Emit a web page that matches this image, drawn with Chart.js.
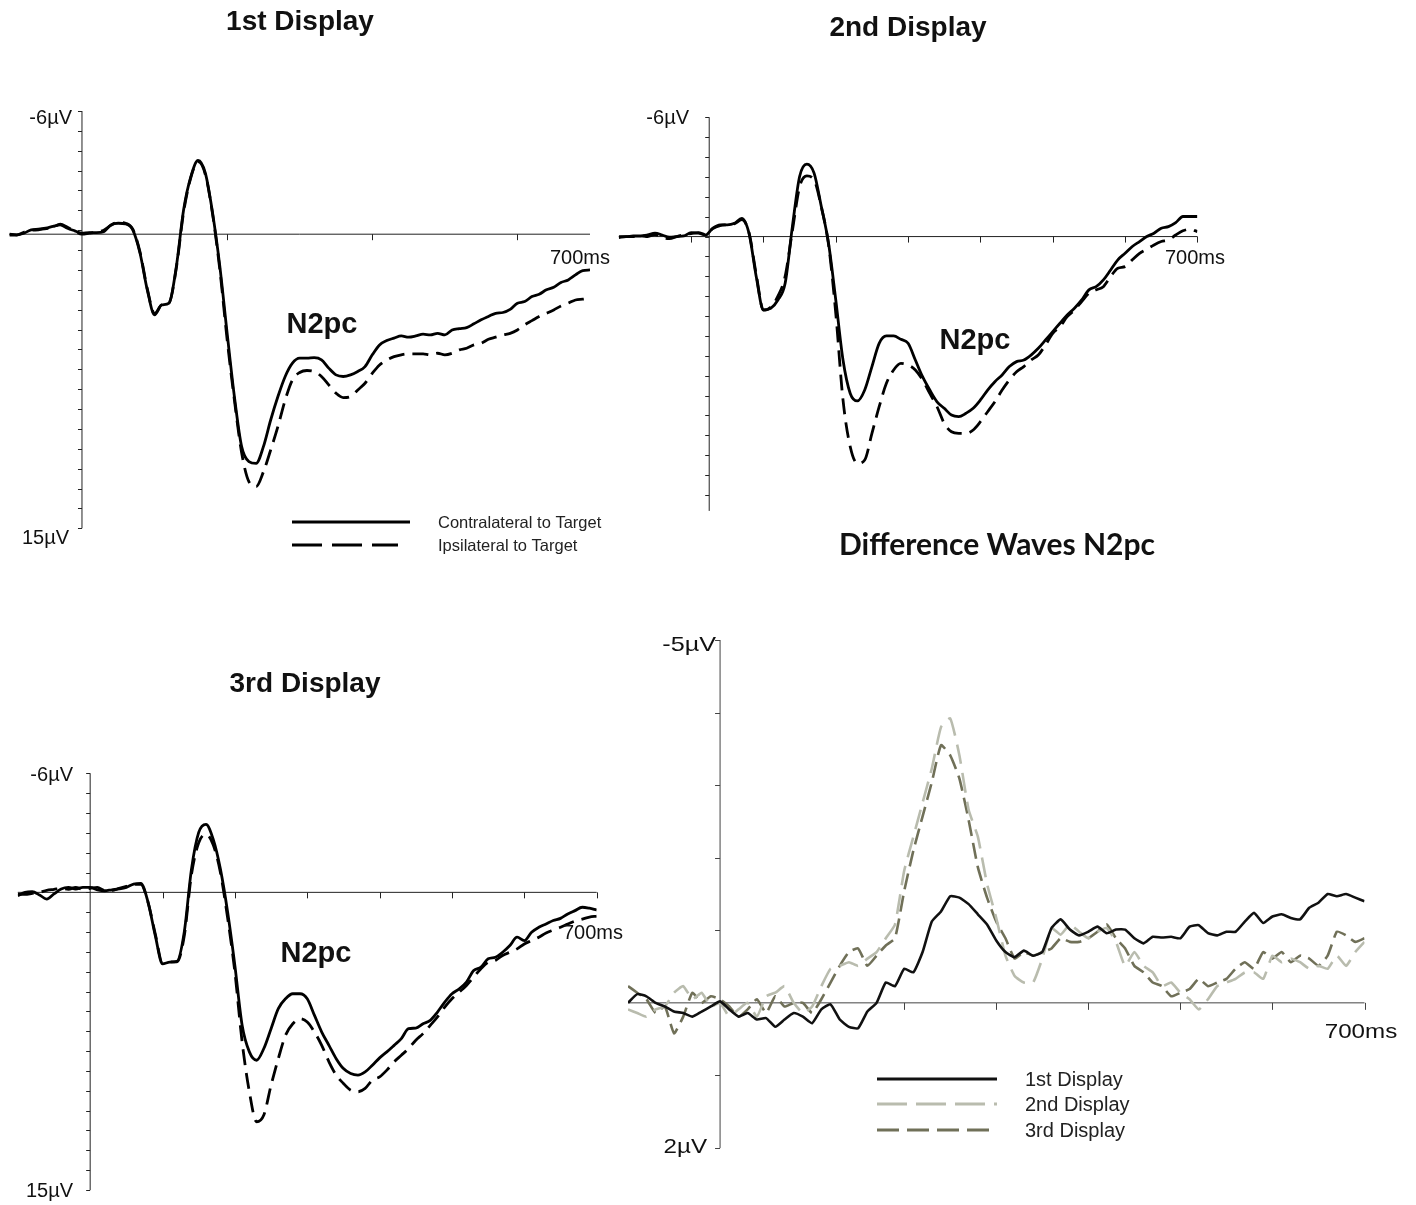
<!DOCTYPE html>
<html>
<head>
<meta charset="utf-8">
<script src="https://cdn.jsdelivr.net/npm/chart.js@4.4.1/dist/chart.umd.min.js"></script>
<style>
  html, body { margin: 0; padding: 0; background: #fff; }
  #wrap { position: relative; width: 1416px; height: 1205px; }
  #wrap canvas { position: absolute; left: 0; top: 0; }
</style>
</head>
<body>
<div id="wrap">
  <canvas id="p1" width="1416" height="1205"></canvas>
  <canvas id="p2" width="1416" height="1205"></canvas>
  <canvas id="p3" width="1416" height="1205"></canvas>
  <canvas id="p4" width="1416" height="1205"></canvas>
</div>
<script>
// time points in ms (10 ms steps, -100 .. 700)
const TIME_MS = [-100,-90,-80,-70,-60,-50,-40,-30,-20,-10,
  0,10,20,30,40,50,60,70,80,90,
  100,110,120,130,140,150,160,170,180,190,
  200,210,220,230,240,250,260,270,280,290,
  300,310,320,330,340,350,360,370,380,390,
  400,410,420,430,440,450,460,470,480,490,
  500,510,520,530,540,550,560,570,580,590,
  600,610,620,630,640,650,660,670,680,690,700];

// amplitudes in microvolts (negative up)
const P1_CONTRA = [0.0,0.03,-0.05,-0.22,-0.25,-0.3,-0.39,-0.47,-0.3,-0.17,
  -0.05,-0.08,-0.08,-0.13,-0.47,-0.55,-0.52,-0.22,0.96,2.8,
  4.06,3.56,3.47,1.63,-1.22,-2.9,-3.71,-3.07,-1.06,1.63,
  4.98,8.17,10.69,11.44,11.53,10.69,9.35,8.17,7.16,6.49,
  6.24,6.24,6.21,6.32,6.74,7.08,7.16,7.08,6.91,6.66,
  6.07,5.57,5.35,5.23,5.12,5.18,5.12,5.03,5.07,4.99,
  5.07,4.82,4.75,4.70,4.51,4.31,4.14,3.98,3.94,3.78,
  3.47,3.39,3.14,3.02,2.80,2.67,2.43,2.30,2.05,1.83,1.80];
const P1_IPSI = [0.05,0.05,-0.1,-0.2,-0.22,-0.28,-0.35,-0.5,-0.35,-0.15,
  0.0,-0.05,-0.1,-0.2,-0.45,-0.6,-0.55,-0.25,0.9,2.75,
  4.0,3.55,3.45,1.7,-1.1,-2.85,-3.65,-3.0,-1.0,1.8,
  5.3,8.34,11.0,12.45,12.7,11.96,10.86,9.68,8.34,7.33,
  6.96,6.86,6.91,7.16,7.58,8.0,8.22,8.17,7.84,7.5,
  7.0,6.58,6.33,6.16,6.07,6.02,6.02,6.02,6.07,5.99,
  6.07,5.99,5.82,5.74,5.57,5.49,5.29,5.18,5.07,4.99,
  4.82,4.56,4.35,4.14,3.98,3.81,3.61,3.47,3.31,3.27,3.22];

const P2_CONTRA = [0,0,-0.03,-0.03,-0.08,-0.17,-0.08,0.03,0,-0.03,
  -0.2,-0.17,-0.08,-0.42,-0.59,-0.59,-0.67,-0.92,-0.17,2.01,
  3.69,3.61,3.19,2.35,-0.5,-3.02,-3.64,-3.19,-1.51,0.34,
  3.19,6.21,7.89,8.27,7.72,6.54,5.37,5.0,5.0,5.17,
  5.37,6.21,7.05,7.72,8.31,8.64,8.98,9.06,8.89,8.64,
  8.22,7.72,7.3,6.96,6.54,6.29,6.21,5.96,5.62,5.2,
  4.78,4.36,3.94,3.61,3.19,2.68,2.52,2.18,1.68,1.17,
  0.84,0.5,0.25,0,-0.17,-0.42,-0.5,-0.7,-1.01,-1.01,-1.01];
const P2_IPSI = [0.05,0,0,-0.05,0,-0.1,0.05,0.1,0,-0.1,
  -0.15,-0.2,-0.1,-0.4,-0.55,-0.6,-0.65,-0.85,-0.2,1.9,
  3.7,3.55,3.0,2.0,-0.3,-2.5,-3.05,-2.85,-1.5,0.4,
  3.86,8.22,10.57,11.41,11.24,9.9,8.56,7.38,6.71,6.38,
  6.46,6.71,7.21,7.89,8.56,9.4,9.82,9.9,9.9,9.73,
  9.31,8.81,8.31,7.72,7.21,6.8,6.54,6.21,5.96,5.45,
  4.87,4.53,4.03,3.69,3.27,2.85,2.68,2.52,2.01,1.59,
  1.51,1.17,0.84,0.64,0.42,0.25,0.17,-0.08,-0.29,-0.37,-0.25];

const P3_CONTRA = [0.17,0,-0.03,0.13,0.34,0.08,-0.17,-0.25,-0.17,-0.25,
  -0.25,-0.13,-0.08,-0.13,-0.17,-0.25,-0.42,-0.45,0.5,2.18,
  3.6,3.52,3.48,2.01,-1.17,-3.02,-3.43,-2.68,-1.17,1.0,
  3.69,6.7,8.04,8.46,7.87,6.87,5.86,5.36,5.11,5.11,
  5.36,6.2,7.04,7.71,8.38,8.88,9.13,9.21,9.05,8.71,
  8.34,8.04,7.71,7.37,6.87,6.84,6.62,6.45,6.03,5.53,
  5.11,4.86,4.52,3.94,3.77,3.35,3.27,3.02,2.68,2.26,
  2.43,2.01,1.76,1.59,1.42,1.31,1.09,0.92,0.75,0.8,0.89];
const P3_IPSI = [0.1,0.1,0.05,0.0,-0.1,-0.15,-0.2,-0.15,-0.25,-0.15,
  -0.2,-0.25,-0.1,-0.1,-0.2,-0.3,-0.4,-0.4,0.5,2.1,
  3.55,3.5,3.5,2.2,-0.9,-2.5,-2.93,-2.4,-1.0,1.3,
  4.02,7.54,10.05,11.56,11.22,9.72,8.38,7.2,6.62,6.37,
  6.53,7.04,7.71,8.54,9.21,9.63,9.97,10.05,9.88,9.46,
  9.3,8.96,8.54,8.21,7.87,7.45,7.12,6.7,6.28,5.78,
  5.36,5.03,4.69,4.27,3.85,3.52,3.43,3.18,3.02,2.85,
  2.6,2.43,2.26,2.05,1.9,1.76,1.6,1.45,1.35,1.25,1.2];

const DIFF_1ST = [0,-0.12,-0.09,0,0.05,0.12,0.14,0.19,0.12,0.05,
  -0.02,0.09,0.19,0.14,0.23,0.21,0.33,0.23,0.14,0.19,
  0.28,0.09,0.02,0.23,0.33,0.35,0.12,0,-0.28,-0.23,
  -0.47,-0.42,-0.7,-1.12,-1.26,-1.47,-1.45,-1.36,-1.22,-1.08,
  -0.86,-0.7,-0.63,-0.72,-0.65,-0.7,-1.03,-1.15,-1.01,-0.93,
  -0.98,-1.05,-0.96,-1.01,-1.01,-0.89,-0.82,-0.91,-0.9,-0.91,
  -0.89,-1.05,-1.07,-0.96,-0.93,-0.98,-0.98,-1.12,-1.24,-1.1,
  -1.19,-1.22,-1.17,-1.15,-1.31,-1.38,-1.5,-1.47,-1.5,-1.45,-1.4];
const DIFF_2ND = [0.09,0.14,0.19,0.09,0.05,-0.14,-0.23,-0.05,-0.14,0.05,
  0,0.19,0.09,0,0.19,-0.09,-0.14,-0.23,0,0.14,
  0.05,-0.23,-0.47,-0.51,-0.56,-0.51,-0.61,-0.7,-0.89,-1.08,
  -1.82,-2.29,-2.76,-3.23,-3.8,-3.92,-3.41,-2.66,-2.29,-1.64,
  -1.17,-0.65,-0.37,-0.28,-0.28,-0.61,-1.03,-0.94,-1.08,-0.98,
  -0.89,-0.98,-1.03,-0.84,-0.51,-0.7,-0.51,-0.42,-0.23,-0.28,
  -0.14,-0.05,0.09,-0.05,-0.23,-0.28,-0.33,-0.42,-0.42,-0.33,
  -0.65,-0.56,-0.61,-0.56,-0.47,-0.51,-0.47,-0.65,-0.51,-0.7,-0.84];
const DIFF_3RD = [-0.23,-0.14,-0.05,0.14,0.05,0.42,0.19,-0.14,0,-0.09,
  -0.05,0.05,0.19,0.09,-0.05,0.14,-0.09,0.05,0,0,
  0.14,-0.05,-0.28,-0.51,-0.7,-0.75,-0.51,-0.65,-0.79,-0.89,
  -1.54,-2.1,-2.57,-3.04,-3.55,-3.41,-3.09,-2.52,-1.87,-1.45,
  -1.12,-0.89,-0.61,-0.7,-0.65,-0.7,-0.75,-0.89,-0.84,-0.84,
  -0.89,-0.98,-1.08,-0.89,-0.75,-0.51,-0.42,-0.28,-0.23,-0.09,
  -0.14,-0.19,-0.33,-0.23,-0.28,-0.33,-0.47,-0.56,-0.47,-0.7,
  -0.61,-0.7,-0.56,-0.65,-0.61,-0.51,-0.65,-0.98,-0.93,-0.84,-0.89];

const SERIES_ERP = ["Contralateral to Target", "Ipsilateral to Target"];
const SERIES_DIFF = ["1st Display", "2nd Display", "3rd Display"];

const AXIS_FONT = "'Liberation Sans', Arial, sans-serif";

function pts(vals) {
    return TIME_MS.map((t, i) => ({ x: t, y: vals[i] }));
}

function line(ctx, x1, y1, x2, y2) {
    ctx.beginPath();
    ctx.moveTo(x1, y1);
    ctx.lineTo(x2, y2);
    ctx.stroke();
}

// draws the ERP style axes, labels, titles and legend
const erpAxes = {
    id: "erpAxes",
    beforeDatasetsDraw(chart, args, o) {
        const { ctx, scales: { x, y } } = chart;
        ctx.save();
        ctx.strokeStyle = o.axisColor || "#222";
        ctx.lineWidth = 1;
        const y0 = y.getPixelForValue(0);
        const xa = x.getPixelForValue(o.yAxisAt || 0);
        line(ctx, x.left, y0, x.right, y0);
        line(ctx, xa, y.top, xa, y.bottom);
        for (let v = y.min; v <= y.max + 1e-6; v += 1) {
            const py = Math.round(y.getPixelForValue(v)) + 0.5;
            line(ctx, xa - o.yTickLen, py, xa, py);
        }
        o.xTicks.forEach(t => {
            const px = Math.round(x.getPixelForValue(t)) + 0.5;
            line(ctx, px, y0, px, y0 + o.xTickLen);
        });
        ctx.restore();
    },
    afterDraw(chart, args, o) {
        const { ctx } = chart;
        ctx.save();
        ctx.textBaseline = "middle";
        o.texts.forEach(tx => {
            ctx.save();
            ctx.font = tx.font;
            ctx.fillStyle = tx.color || "#111";
            ctx.textAlign = tx.align || "center";
            ctx.translate(tx.x, tx.y);
            ctx.scale(tx.sx || 1, 1);
            ctx.fillText(tx.text, 0, 0);
            ctx.restore();
        });
        (o.legend || []).forEach(lg => {
            const ds = chart.data.datasets[lg.index];
            ctx.strokeStyle = ds.borderColor;
            ctx.lineWidth = lg.width;
            ctx.setLineDash(lg.dash || []);
            line(ctx, lg.x1, lg.y, lg.x2, lg.y);
            ctx.setLineDash([]);
            ctx.font = lg.font;
            ctx.fillStyle = "#222";
            ctx.textAlign = "left";
            ctx.fillText(ds.label, lg.tx, lg.y + 1);
        });
        ctx.restore();
    }
};

function makePanel(id, frame, yMin, yMax, datasets, opts) {
    const W = 1416, H = 1205;
    return new Chart(document.getElementById(id), {
        type: "line",
        data: { datasets },
        options: {
            responsive: false,
            animation: false,
            devicePixelRatio: 1,
            events: [],
            layout: { padding: { left: frame.left, right: W - frame.right, top: frame.top, bottom: H - frame.bottom } },
            elements: { point: { radius: 0 } },
            scales: {
                x: { type: "linear", min: -100, max: 700, display: false },
                y: { type: "linear", min: yMin, max: yMax, reverse: true, display: false }
            },
            plugins: { legend: { display: false }, tooltip: { enabled: false }, erpAxes: opts }
        },
        plugins: [erpAxes]
    });
}

function erpSets(contra, ipsi) {
    return [
        { label: SERIES_ERP[0], data: pts(contra), borderColor: "#000", borderWidth: 2.8,
          cubicInterpolationMode: "monotone", fill: false },
        { label: SERIES_ERP[1], data: pts(ipsi), borderColor: "#000", borderWidth: 2.8,
          borderDash: [16, 8], cubicInterpolationMode: "monotone", fill: false }
    ];
}

const LBL = "20px " + AXIS_FONT;
const TITLE = "bold 28px " + AXIS_FONT;
const N2PC = "bold 29px " + AXIS_FONT;
const LBL4 = "21px " + AXIS_FONT;

makePanel("p1", { left: 9.4, right: 590, top: 111, bottom: 528.3 }, -6.2, 14.8,
    erpSets(P1_CONTRA, P1_IPSI), {
        yAxisAt: 0, yTickLen: 4, xTicks: [200, 400, 600], xTickLen: 6,
        texts: [
            { text: "1st Display", x: 300, y: 22, font: TITLE },
            { text: "N2pc", x: 322, y: 325, font: N2PC },
            { text: "-6\u00b5V", x: 72, y: 118, font: LBL, align: "right" },
            { text: "15\u00b5V", x: 69, y: 538, font: LBL, align: "right" },
            { text: "700ms", x: 580, y: 258, font: LBL }
        ],
        legend: [
            { index: 0, x1: 292, x2: 410, y: 522, width: 3, tx: 438, font: "16.5px " + AXIS_FONT },
            { index: 1, x1: 292, x2: 398, y: 545, width: 3, dash: [30, 10], tx: 438, font: "16.5px " + AXIS_FONT }
        ]
    });

makePanel("p2", { left: 618.8, right: 1197.4, top: 117.3, bottom: 510.9 }, -6, 13.8,
    erpSets(P2_CONTRA, P2_IPSI), {
        yAxisAt: 25, yTickLen: 4, xTicks: [0, 100, 200, 300, 400, 500, 600, 700], xTickLen: 6,
        texts: [
            { text: "2nd Display", x: 908, y: 28, font: TITLE },
            { text: "N2pc", x: 975, y: 341, font: N2PC },
            { text: "-6\u00b5V", x: 689, y: 118, font: LBL, align: "right" },
            { text: "700ms", x: 1195, y: 258, font: LBL }
        ]
    });

makePanel("p3", { left: 17.8, right: 596.7, top: 773.3, bottom: 1190 }, -6, 15,
    erpSets(P3_CONTRA, P3_IPSI), {
        yAxisAt: 0, yTickLen: 4, xTicks: [100, 200, 300, 400, 500, 600, 700], xTickLen: 6,
        texts: [
            { text: "3rd Display", x: 305, y: 684, font: TITLE },
            { text: "N2pc", x: 316, y: 954, font: N2PC },
            { text: "-6\u00b5V", x: 73, y: 775, font: LBL, align: "right" },
            { text: "15\u00b5V", x: 73, y: 1191, font: LBL, align: "right" },
            { text: "700ms", x: 593, y: 933, font: LBL }
        ]
    });

makePanel("p4", { left: 628, right: 1364.5, top: 640, bottom: 1148 }, -5, 2, [
        { label: SERIES_DIFF[0], data: pts(DIFF_1ST), borderColor: "#111", borderWidth: 2.6, tension: 0.15 },
        { label: SERIES_DIFF[1], data: pts(DIFF_2ND), borderColor: "#b9bcae", borderWidth: 2.6,
          borderDash: [20, 9], tension: 0.15 },
        { label: SERIES_DIFF[2], data: pts(DIFF_3RD), borderColor: "#707058", borderWidth: 2.6,
          borderDash: [16, 7], tension: 0.15 }
    ], {
        yAxisAt: 0, yTickLen: 5, xTicks: [200, 300, 400, 500, 600, 700], xTickLen: 7, axisColor: "#444",
        texts: [
            { text: "Difference Waves N2pc", x: 997, y: 545, font: "bold 30px Lato, 'Open Sans', sans-serif" },
            { text: "-5\u00b5V", x: 716, y: 645, font: LBL4, align: "right", sx: 1.2 },
            { text: "2\u00b5V", x: 707, y: 1147, font: LBL4, align: "right", sx: 1.15 },
            { text: "700ms", x: 1361, y: 1032, font: LBL4, sx: 1.15 }
        ],
        legend: [
            { index: 0, x1: 877, x2: 997, y: 1079, width: 3, tx: 1025, font: "20px " + AXIS_FONT },
            { index: 1, x1: 877, x2: 997, y: 1104, width: 3, dash: [30, 9], tx: 1025, font: "20px " + AXIS_FONT },
            { index: 2, x1: 877, x2: 997, y: 1130, width: 3, dash: [22, 8], tx: 1025, font: "20px " + AXIS_FONT }
        ]
    });
</script>
</body>
</html>
